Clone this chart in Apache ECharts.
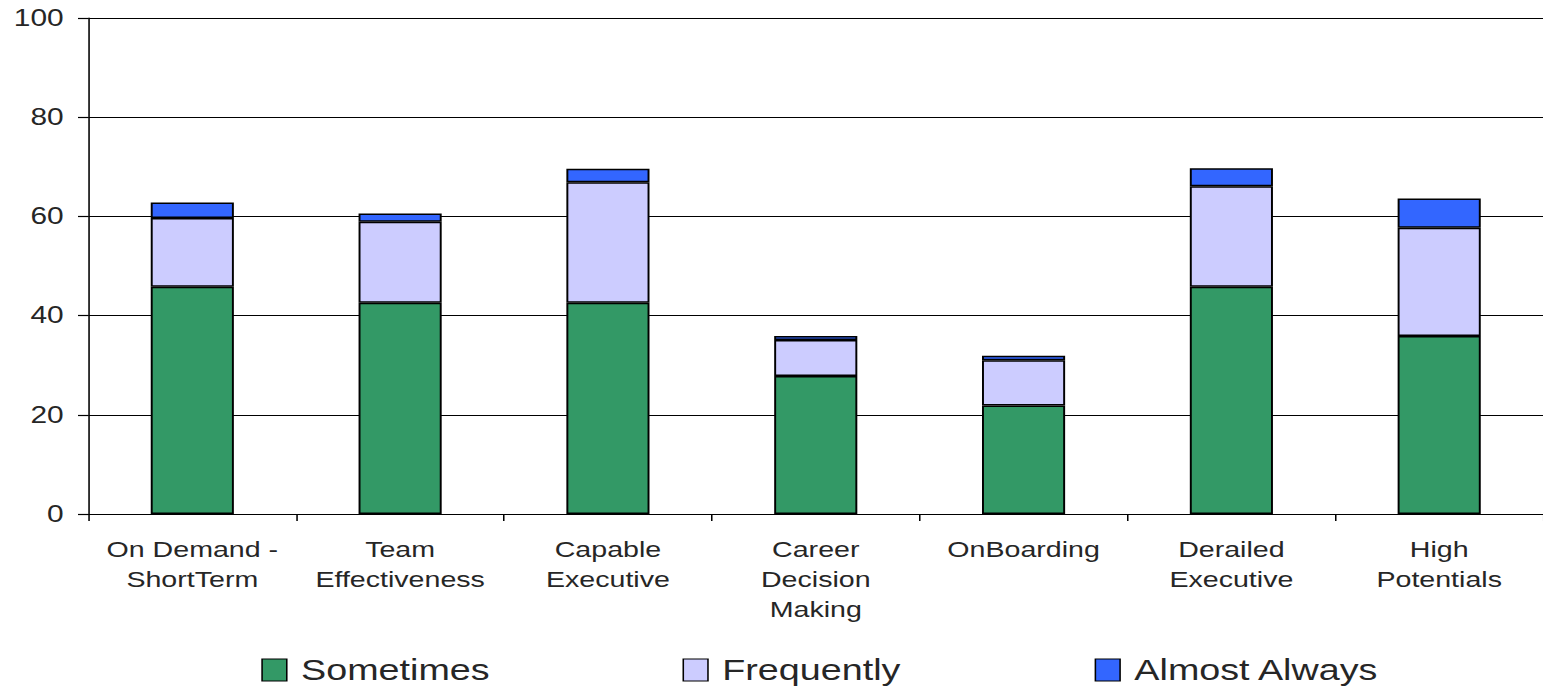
<!DOCTYPE html>
<html>
<head>
<meta charset="utf-8">
<script src="https://cdn.jsdelivr.net/npm/echarts@6/dist/echarts.min.js"></script>
<style>
  html, body { margin: 0; padding: 0; background: #fff; overflow: hidden; }
  #wrap { width: 1543px; height: 688px; overflow: hidden; }
  #chart { width: 1187px; height: 688px; transform: scaleX(1.3); transform-origin: 0 0; }
</style>
</head>
<body>
<div id="wrap"><div id="chart"></div></div>
<script>
// ---- data ----
const categories = [
  "On Demand -\nShortTerm",
  "Team\nEffectiveness",
  "Capable\nExecutive",
  "Career\nDecision\nMaking",
  "OnBoarding",
  "Derailed\nExecutive",
  "High\nPotentials"
];
const seriesNames = ["Sometimes", "Frequently", "Almost Always"];
const sometimes    = [45.8, 42.6, 42.6, 27.8, 21.9, 45.8, 35.9];
const frequently   = [13.9, 16.3, 24.3, 7.3, 9.1, 20.3, 21.8];
const almostAlways = [3.1, 1.7, 2.7, 0.8, 0.9, 3.6, 5.9];
const yTicks = [0, 20, 40, 60, 80, 100];

// ---- styles ----
const colors = ["#339966", "#CCCCFF", "#3366FF"];
const font = '"Liberation Sans", Arial, Helvetica, sans-serif';
const textColor = "#262626";

const chart = echarts.init(document.getElementById('chart'), null, { renderer: 'svg' });

const values = [sometimes, frequently, almostAlways];
const legendLefts = [201, 525, 842];

const option = {
  animation: false,
  backgroundColor: '#fff',
  textStyle: { fontFamily: font },
  grid: { left: 68, right: 0, top: 18, bottom: 174, containLabel: false },
  legend: seriesNames.map((name, i) => ({
    data: [name],
    left: legendLefts[i],
    top: 655,
    padding: 0,
    itemWidth: 19,
    itemHeight: 22,
    icon: 'rect',
    itemStyle: { borderColor: '#000', borderWidth: 1.2 },
    textStyle: { fontFamily: font, fontSize: 29, color: textColor, lineHeight: 30, padding: [0, 0, 0, 6] },
    selectedMode: false
  })),
  xAxis: {
    type: 'category',
    data: categories,
    axisLine: { lineStyle: { color: '#000', width: 1.2 } },
    axisTick: { show: true, length: 7, lineStyle: { color: '#000', width: 1.2 } },
    axisLabel: {
      interval: 0,
      margin: 20,
      fontFamily: font,
      fontSize: 22,
      lineHeight: 30,
      color: textColor,
      align: 'center'
    }
  },
  yAxis: {
    type: 'value',
    min: yTicks[0],
    max: yTicks[yTicks.length - 1],
    interval: yTicks[1] - yTicks[0],
    axisLine: { show: true, lineStyle: { color: '#000', width: 1.2 } },
    axisTick: { show: true, length: 8, lineStyle: { color: '#000', width: 1.2 } },
    axisLabel: { margin: 19, fontFamily: font, fontSize: 23, color: textColor },
    splitLine: { show: true, lineStyle: { color: '#000', width: 1.2 } }
  },
  series: seriesNames.map((name, i) => ({
    name: name,
    type: 'bar',
    stack: 'total',
    barWidth: '40%',
    data: values[i],
    itemStyle: { color: colors[i], borderColor: '#000', borderWidth: 1.5 },
    emphasis: { disabled: true }
  }))
};

chart.setOption(option);
</script>
</body>
</html>
